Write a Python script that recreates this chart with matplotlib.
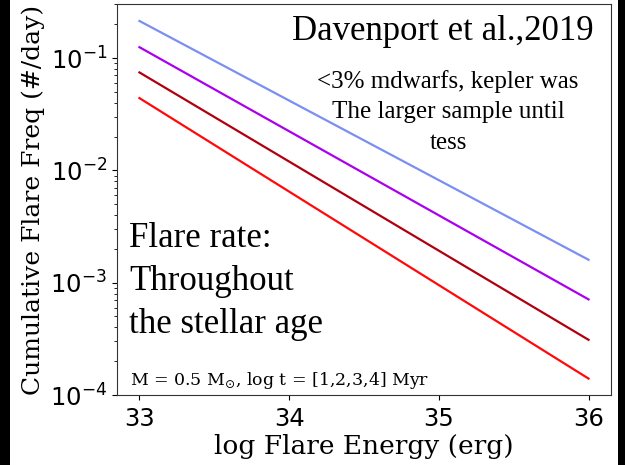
import matplotlib
matplotlib.use("Agg")
import matplotlib.pyplot as plt
from matplotlib.patches import Rectangle
import numpy as np

# log flare energy endpoints and cumulative flare frequency for each age
log_energy = [33, 36]
log_ages = [1, 2, 3, 4]
freq = {
    1: [0.214, 0.0016],
    2: [0.125, 0.00071],
    3: [0.0745, 0.00031],
    4: [0.044, 0.00014],
}
colors = ["#7b8ff2", "#aa00ee", "#b00010", "#ff0a0a"]

fig = plt.figure(figsize=(6.25, 4.65), dpi=100, facecolor="black")
fig.patches.append(Rectangle((10 / 625, 0), 608 / 625, 1, transform=fig.transFigure,
                             facecolor="white", edgecolor="none", zorder=-10))
ax = fig.add_axes([117 / 625, 1 - 395 / 465, 494 / 625, 391 / 465])

for age, c in zip(log_ages, colors):
    ax.plot(log_energy, freq[age], color=c, lw=1.6)

ax.set_yscale("log")
ax.set_ylim(1e-4, 0.303)
ax.set_xticks([33, 34, 35, 36])
ax.tick_params(labelsize=17.5)
ax.tick_params(axis="x", pad=5)
for s in ax.spines.values():
    s.set_color("#333333")

ax.set_xlabel("log Flare Energy (erg)", family="DejaVu Serif", fontsize=19,
              labelpad=2)
ax.set_ylabel("Cumulative Flare Freq (#/day)", family="DejaVu Serif", fontsize=18,
              labelpad=4)

ax.text(0.027, 0.026, r"M = 0.5 M$_{\odot}$, log t = [1,2,3,4] Myr",
        transform=ax.transAxes, family="DejaVu Serif", fontsize=12.5,
        va="baseline")

ax.text(0.965, 0.93, "Davenport et al.,2019", transform=ax.transAxes,
        family="Liberation Serif", fontsize=25, ha="right", va="center")
ax.text(0.67, 0.725, "<3% mdwarfs, kepler was\nThe larger sample until\ntess",
        transform=ax.transAxes, family="Liberation Serif", fontsize=18,
        ha="center", va="center", linespacing=1.5)
ax.text(0.025, 0.29, "Flare rate:\nThroughout\nthe stellar age",
        transform=ax.transAxes, family="Liberation Serif", fontsize=25,
        ha="left", va="center", linespacing=1.4)

fig.savefig("out.png", dpi=100, facecolor=fig.get_facecolor())
